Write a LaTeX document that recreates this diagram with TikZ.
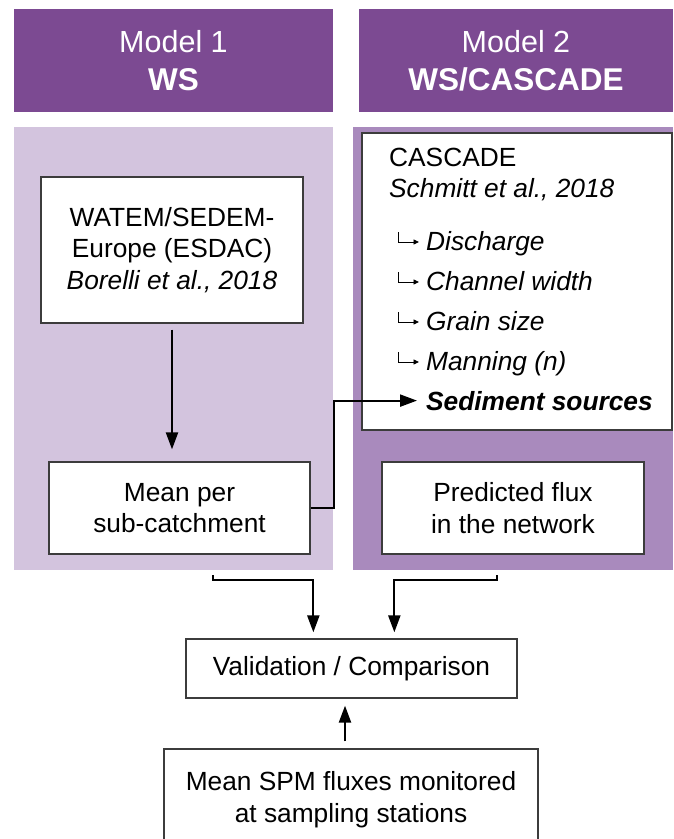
\documentclass[tikz,border=0pt]{standalone}
\usepackage{fontspec}
\setmainfont{Liberation Sans}
\usetikzlibrary{arrows.meta,calc}
\definecolor{hdr}{RGB}{124,74,146}
\definecolor{lightp}{RGB}{211,196,222}
\definecolor{midp}{RGB}{169,138,189}
\definecolor{edgec}{RGB}{60,60,60}
\begin{document}
\begin{tikzpicture}[x=1pt,y=-1pt,
  hdrbox/.style={fill=hdr, draw=none, text=white, align=center, font=\fontsize{30.5}{38}\selectfont, inner sep=0pt},
  panel/.style={draw=none, inner sep=0pt},
  box/.style={draw=edgec, line width=1.3pt, fill=white, align=center, font=\fontsize{26.3}{31.5}\selectfont, inner sep=0pt},
  txt/.style={anchor=base west, inner sep=0pt, font=\fontsize{26.3}{31}\selectfont},
  item/.style={txt, font=\fontsize{26.3}{31}\selectfont\itshape},
  conn/.style={line width=2.2pt, -{Triangle[length=17pt,width=12pt]}},
  subarr/.style={line width=0.9pt, -{Triangle[length=5.5pt,width=5pt]}}
]
\clip (0,0) rectangle (673,839);
\useasboundingbox (0,0) rectangle (673,839);
\fill[white] (0,0) rectangle (673,839);

% headers
\node[hdrbox, minimum width=319pt, minimum height=103pt] (h1) at (173.5,60.5)
  {Model 1\\{\fontsize{31.5}{38}\selectfont\bfseries WS}};
\node[hdrbox, minimum width=314pt, minimum height=103pt] (h2) at (516,60.5)
  {Model 2\\{\fontsize{31.5}{38}\selectfont\bfseries WS/CASCADE}};

% panels
\node[panel, fill=lightp, minimum width=319pt, minimum height=443pt] (pL) at (173.5,348.5) {};
\node[panel, fill=midp, minimum width=320pt, minimum height=443pt] (pR) at (513,348.5) {};

% boxes
\node[box, minimum width=262pt, minimum height=146pt] (ws) at (172,250)
  {WATEM/SEDEM-\\Europe (ESDAC)\\\textit{Borelli et al., 2018}};
\node[box, minimum width=261pt, minimum height=92pt] (mean) at (179.5,508)
  {Mean per\\sub-catchment};
\node[box, minimum width=310pt, minimum height=297pt] (casc) at (517,281.5) {};
\node[box, minimum width=262pt, minimum height=92pt] (pred) at (513,508)
  {Predicted flux\\in the network};
\node[box, minimum width=331pt, minimum height=59pt] (valid) at (351.5,668.5)
  {Validation / Comparison};
\node[box, minimum width=374pt, minimum height=101pt] (spm) at (351,799.5)
  {Mean SPM fluxes monitored\\at sampling stations};

% CASCADE content
\node[txt] (ct) at (389,166) {CASCADE};
\node[txt, font=\fontsize{26.3}{31}\selectfont\itshape] (cs) at (389,197) {Schmitt et al., 2018};
\node[item] (i1) at (426,250) {Discharge};
\node[item] (i2) at (426,290) {Channel width};
\node[item] (i3) at (426,330) {Grain size};
\node[item] (i4) at (426,370) {Manning (n)};
\node[item, font=\fontsize{26.3}{31}\selectfont\bfseries\itshape] (sed) at (426,410) {Sediment sources};
\foreach \n in {i1,i2,i3,i4}{
  \draw[subarr] ($(\n.base west)+(-28,-18)$) -- ++(0,10) -- ++(21,0);
}

% connectors
\draw[conn, shorten <=6pt, shorten >=12pt] (ws.south) -- (ws.south |- mean.north);
\draw[conn, shorten >=9pt] (mean.east) -- ++(23,0) |- (sed.west);
\coordinate (l0) at (213,575);
\coordinate (r0) at (497,575);
\draw[conn, shorten >=6pt] (l0) -- ++(0,5) -| ($(valid.north west)+(128,0)$);
\draw[conn, shorten >=6pt] (r0) -- ++(0,5) -| ($(valid.north west)+(209,0)$);
\draw[conn, shorten <=7pt, shorten >=7pt] ($(spm.north)+(-6,0)$) -- ($(valid.south)+(-6.5,0)$);
\end{tikzpicture}
\end{document}
